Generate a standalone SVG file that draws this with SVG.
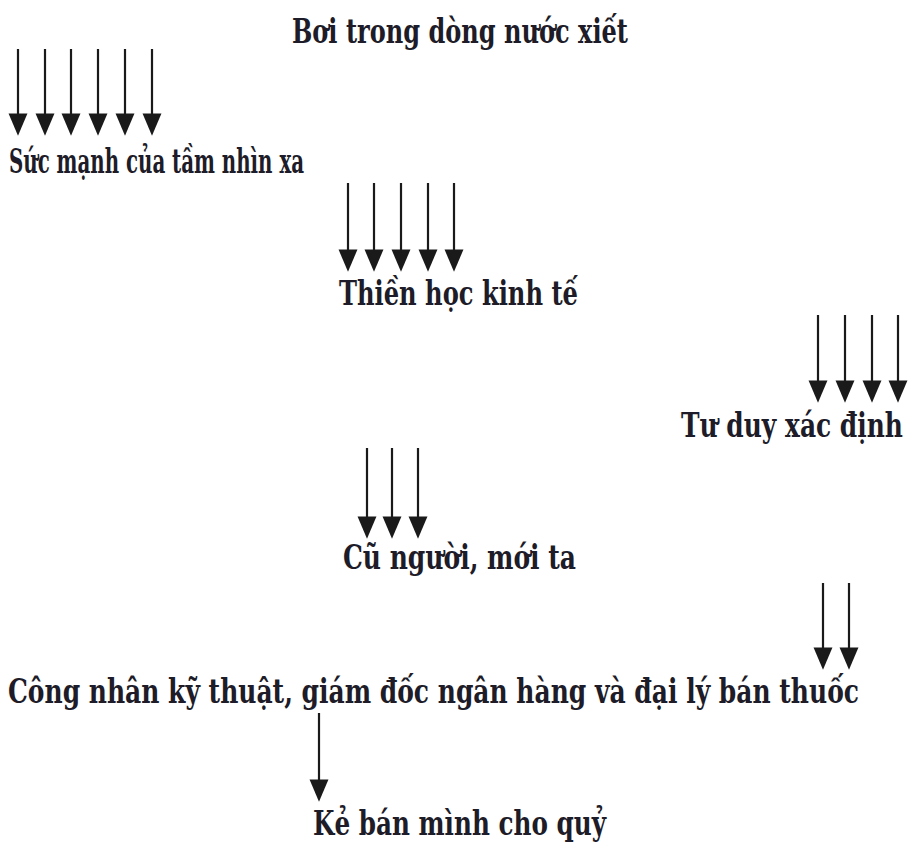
<svg xmlns="http://www.w3.org/2000/svg" width="909" height="842" viewBox="0 0 909 842">
<style>
  .lbl { font-family: "DejaVu Serif", "Liberation Serif", serif; font-weight: bold; font-size: 34px; fill: #1d1c28; }
  .arr { stroke: #1a1a1a; stroke-width: 2.2; fill: none; marker-end: url(#head); }
</style>
<defs>
  <marker id="head" markerUnits="userSpaceOnUse" markerWidth="24" markerHeight="20" viewBox="0 -9 20 18" refX="4" refY="0" orient="auto">
    <path d="M0,-8.5 L20,0 L0,8.5 Z" fill="#1a1a1a"/>
  </marker>
</defs>
<rect width="909" height="842" fill="#ffffff"/>
<g id="connectors">
  <line class="arr" x1="18" y1="49" x2="18" y2="118"/>
  <line class="arr" x1="45" y1="49" x2="45" y2="118"/>
  <line class="arr" x1="71" y1="49" x2="71" y2="118"/>
  <line class="arr" x1="98" y1="49" x2="98" y2="118"/>
  <line class="arr" x1="125" y1="49" x2="125" y2="118"/>
  <line class="arr" x1="152" y1="49" x2="152" y2="118"/>
  <line class="arr" x1="348" y1="183" x2="348" y2="254"/>
  <line class="arr" x1="374" y1="183" x2="374" y2="254"/>
  <line class="arr" x1="401" y1="183" x2="401" y2="254"/>
  <line class="arr" x1="428" y1="183" x2="428" y2="254"/>
  <line class="arr" x1="454" y1="183" x2="454" y2="254"/>
  <line class="arr" x1="818" y1="315" x2="818" y2="385"/>
  <line class="arr" x1="845" y1="315" x2="845" y2="385"/>
  <line class="arr" x1="872" y1="315" x2="872" y2="385"/>
  <line class="arr" x1="898" y1="315" x2="898" y2="385"/>
  <line class="arr" x1="367" y1="448" x2="367" y2="521"/>
  <line class="arr" x1="392" y1="448" x2="392" y2="521"/>
  <line class="arr" x1="418" y1="448" x2="418" y2="521"/>
  <line class="arr" x1="823" y1="583" x2="823" y2="652"/>
  <line class="arr" x1="849" y1="583" x2="849" y2="652"/>
  <line class="arr" x1="319" y1="713" x2="319" y2="784"/>
</g>
<g id="n1"><text class="lbl" transform="scale(0.75,1)" x="389.33" y="43" textLength="448" lengthAdjust="spacingAndGlyphs">Bơi trong dòng nước xiết</text></g>
<g id="n2"><text class="lbl" transform="scale(0.75,1)" x="12" y="173" textLength="393.33" lengthAdjust="spacingAndGlyphs">Sức mạnh của tầm nhìn xa</text></g>
<g id="n3"><text class="lbl" transform="scale(0.75,1)" x="452" y="305" textLength="318.67" lengthAdjust="spacingAndGlyphs">Thiền học kinh tế</text></g>
<g id="n4"><text class="lbl" transform="scale(0.75,1)" x="908" y="437" textLength="296" lengthAdjust="spacingAndGlyphs">Tư duy xác định</text></g>
<g id="n5"><text class="lbl" transform="scale(0.75,1)" x="457.33" y="569" textLength="310.67" lengthAdjust="spacingAndGlyphs">Cũ người, mới ta</text></g>
<g id="n6"><text class="lbl" transform="scale(0.75,1)" x="10.67" y="703" textLength="1134.67" lengthAdjust="spacingAndGlyphs">Công nhân kỹ thuật, giám đốc ngân hàng và đại lý bán thuốc</text></g>
<g id="n7"><text class="lbl" transform="scale(0.75,1)" x="417.33" y="835" textLength="390.67" lengthAdjust="spacingAndGlyphs">Kẻ bán mình cho quỷ</text></g>
</svg>
